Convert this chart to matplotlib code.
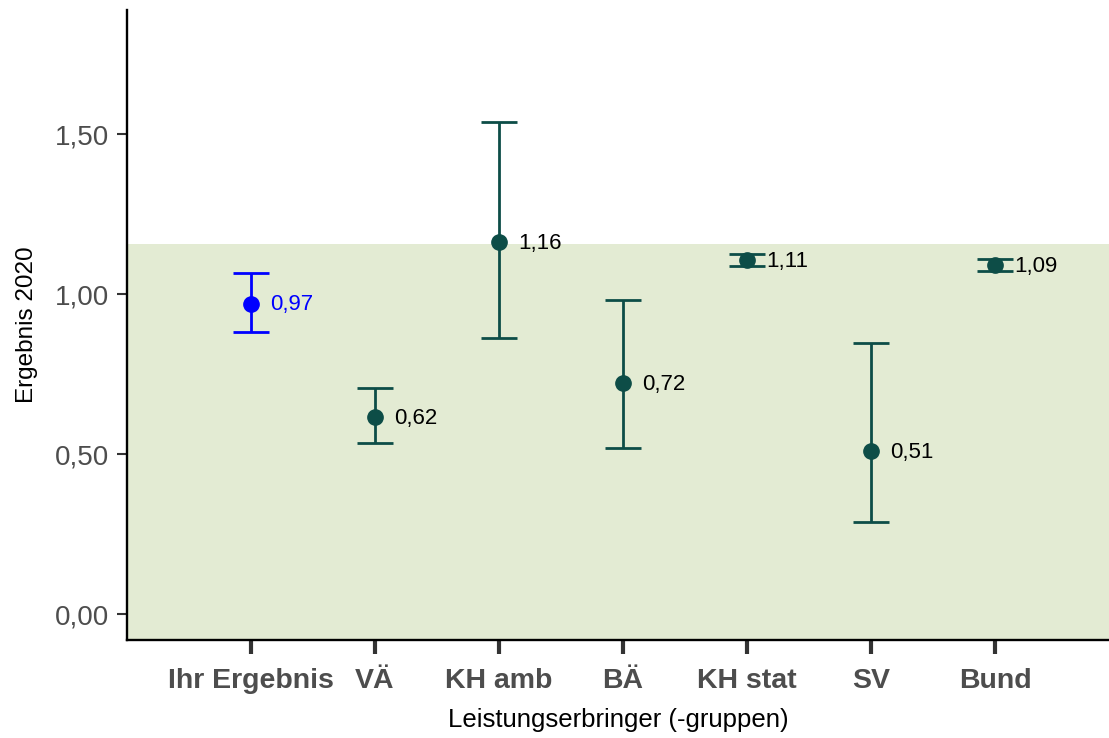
import matplotlib
matplotlib.use("Agg")
import matplotlib.pyplot as plt
from matplotlib.ticker import FuncFormatter

categories = ["Ihr Ergebnis", "VÄ", "KH amb", "BÄ", "KH stat", "SV", "Bund"]
values = [0.97, 0.616, 1.1625, 0.722, 1.106, 0.509, 1.09]
lower = [0.881, 0.534, 0.8625, 0.519, 1.0875, 0.2875, 1.072]
upper = [1.066, 0.706, 1.5375, 0.981, 1.125, 0.847, 1.109]
labels = ["0,97", "0,62", "1,16", "0,72", "1,11", "0,51", "1,09"]
band_top = 1.156

plt.rcParams['font.family'] = ['Liberation Sans', 'DejaVu Sans']

fig = plt.figure(figsize=(11.09, 7.38), dpi=100)
ax = fig.add_axes([127/1109, 98/738, 1 - 127/1109, 630/738])

ax.axhspan(-1, band_top, color="#E3EBD3", zorder=0, lw=0)

teal = "#0D4D47"
for i, (v, lo, hi, lab) in enumerate(zip(values, lower, upper, labels)):
    x = i + 1
    c = "#0000FF" if i == 0 else teal
    tc = "#0000FF" if i == 0 else "black"
    ax.errorbar([x], [v], yerr=[[v - lo], [hi - v]], fmt="o", color=c,
                ecolor=c, elinewidth=2.0, capsize=13, capthick=2.0,
                markersize=11, zorder=3)
    ax.annotate(lab, (x, v), xytext=(14, -1), textcoords="offset points",
                ha="left", va="center", fontsize=16, color=tc)

ax.set_xlim(0, (1109 - 127) / 124)
ax.set_ylim(-0.08125, 1.8875)
ax.set_xticks(range(1, len(categories) + 1))
ax.set_xticklabels(categories, fontsize=20.5, fontweight="bold", color="#4D4D4D")
ax.set_yticks([0, 0.5, 1.0, 1.5])
ax.yaxis.set_major_formatter(FuncFormatter(lambda v, p: f"{v:.2f}".replace(".", ",")))
ax.tick_params(axis="y", labelsize=20, labelcolor="#4D4D4D", length=7,
               width=1.5, color="#333333", pad=6)
ax.tick_params(axis="x", length=10, width=3, color="#333333", pad=10)

for s in ["top", "right"]:
    ax.spines[s].set_visible(False)
for s in ["left", "bottom"]:
    ax.spines[s].set_linewidth(1.7)
    ax.spines[s].set_color("black")

ax.set_xlabel("Leistungserbringer (-gruppen)", fontsize=18.5, labelpad=10)
ax.set_ylabel("Ergebnis 2020", fontsize=17.5, labelpad=12)

fig.savefig("out.png", dpi=100)
